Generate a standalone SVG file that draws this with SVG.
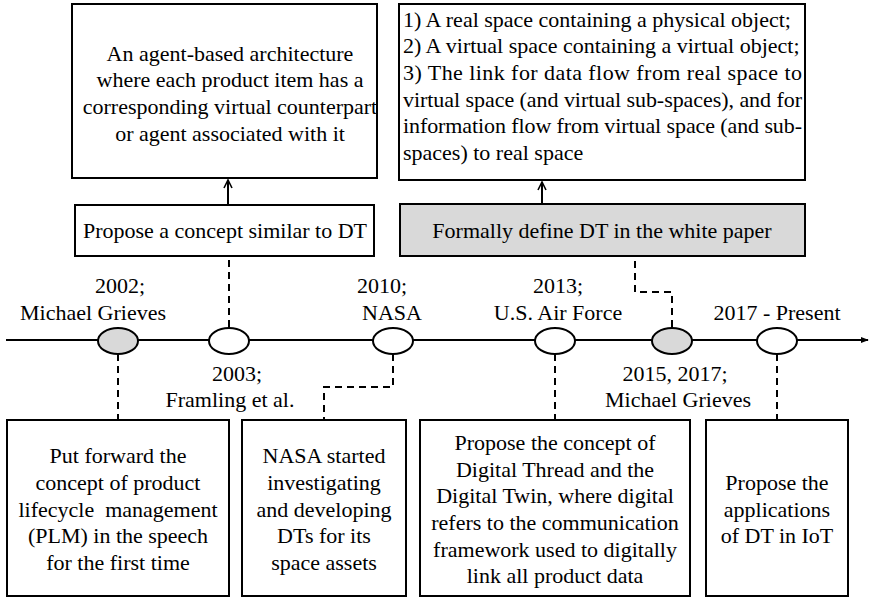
<svg xmlns="http://www.w3.org/2000/svg" width="869" height="598" viewBox="0 0 869 598">
<defs>
<marker id="arr" viewBox="0 0 10 10" refX="9" refY="5" markerWidth="10" markerHeight="10" markerUnits="userSpaceOnUse" orient="auto">
<path d="M1,1 L9,5 L1,9" fill="none" stroke="#000" stroke-width="1.6"/>
</marker>
<marker id="arrEnd" viewBox="0 0 10 10" refX="9" refY="5" markerWidth="8" markerHeight="8" markerUnits="userSpaceOnUse" orient="auto">
<path d="M0,1 L10,5 L0,9 Z" fill="#000"/>
</marker>
<style>
.c{text-anchor:middle}
.box{fill:#fff;stroke:#000;stroke-width:2}
.gray{fill:#d9d9d9;stroke:#000;stroke-width:2}
.ev{fill:#fff;stroke:#000;stroke-width:2}
.evg{fill:#d9d9d9;stroke:#000;stroke-width:2}
.dash{fill:none;stroke:#000;stroke-width:2;stroke-dasharray:7,5}
.solid{fill:none;stroke:#000;stroke-width:2}
</style>
</defs>
<rect width="869" height="598" fill="#fff"/>

<g id="connectors">
<line class="solid" x1="6" y1="340" x2="868" y2="340" marker-end="url(#arrEnd)"/>
<line class="solid" x1="228" y1="205" x2="228" y2="180" marker-end="url(#arr)"/>
<line class="solid" x1="542" y1="204" x2="542" y2="182" marker-end="url(#arr)"/>
<path class="dash" d="M229,327 V256"/>
<path class="dash" d="M118,354 V420"/>
<path class="dash" d="M393,354 V387 H324 V420"/>
<path class="dash" d="M555,354 V420"/>
<path class="dash" d="M672,327 V292 H635 V256"/>
<path class="dash" d="M777,354 V420"/>
</g>

<g id="events">
<ellipse class="evg" cx="118" cy="341" rx="20" ry="13"/>
<ellipse class="ev" cx="229" cy="341" rx="20" ry="13"/>
<ellipse class="ev" cx="393" cy="341" rx="20" ry="13"/>
<ellipse class="ev" cx="555" cy="341" rx="20" ry="13"/>
<ellipse class="evg" cx="672" cy="341" rx="20" ry="13"/>
<ellipse class="ev" cx="777" cy="341" rx="20" ry="13"/>
</g>

<g id="labels">
<text x="120" y="293" class="c" font-family="Times New Roman" font-size="22">2002;</text>
<text x="93" y="320" class="c" font-family="Times New Roman" font-size="22">Michael Grieves</text>
<text x="237" y="381" class="c" font-family="Times New Roman" font-size="22">2003;</text>
<text x="230" y="407" class="c" font-family="Times New Roman" font-size="22">Framling et al.</text>
<text x="382" y="293" class="c" font-family="Times New Roman" font-size="22">2010;</text>
<text x="392" y="320" class="c" font-family="Times New Roman" font-size="22">NASA</text>
<text x="558" y="293" class="c" font-family="Times New Roman" font-size="22">2013;</text>
<text x="558" y="320" class="c" font-family="Times New Roman" font-size="22">U.S. Air Force</text>
<text x="675" y="381" class="c" font-family="Times New Roman" font-size="22">2015, 2017;</text>
<text x="678" y="407" class="c" font-family="Times New Roman" font-size="22">Michael Grieves</text>
<text x="777" y="320" class="c" font-family="Times New Roman" font-size="22">2017 - Present</text>
</g>

<g id="top-left">
<rect class="box" x="72" y="4" width="305" height="174"/>
<text class="c" x="230" y="61" font-family="Times New Roman" font-size="22">An agent-based architecture</text>
<text class="c" x="230" y="87" font-family="Times New Roman" font-size="22">where each product item has a</text>
<text class="c" x="230" y="114" font-family="Times New Roman" font-size="22">corresponding virtual counterpart</text>
<text class="c" x="230" y="141" font-family="Times New Roman" font-size="22">or agent associated with it</text>
</g>

<g id="propose-similar">
<rect class="box" x="75" y="205" width="299" height="51"/>
<text class="c" x="225" y="238" font-family="Times New Roman" font-size="22">Propose a concept similar to DT</text>
</g>

<g id="top-right">
<rect class="box" x="399" y="4" width="406" height="176"/>
<text x="403" y="27" font-family="Times New Roman" font-size="22">1) A real space containing a physical object;</text>
<text x="403" y="53" font-family="Times New Roman" font-size="22">2) A virtual space containing a virtual object;</text>
<text x="403" y="80" textLength="399" lengthAdjust="spacing" font-family="Times New Roman" font-size="22">3) The link for data flow from real space to</text>
<text x="403" y="107" textLength="399" lengthAdjust="spacing" font-family="Times New Roman" font-size="22">virtual space (and virtual sub-spaces), and for</text>
<text x="403" y="133" textLength="399" lengthAdjust="spacing" font-family="Times New Roman" font-size="22">information flow from virtual space (and sub-</text>
<text x="403" y="160" font-family="Times New Roman" font-size="22">spaces) to real space</text>
</g>

<g id="formally-define">
<rect class="gray" x="400" y="204" width="405" height="52"/>
<text class="c" x="602" y="238" font-family="Times New Roman" font-size="22">Formally define DT in the white paper</text>
</g>

<g id="box-2002">
<rect class="box" x="7" y="420" width="222" height="176"/>
<text class="c" x="118" y="463" font-family="Times New Roman" font-size="22">Put forward the</text>
<text class="c" x="118" y="490" font-family="Times New Roman" font-size="22">concept of product</text>
<text class="c" x="118" y="517" font-family="Times New Roman" font-size="22" xml:space="preserve">lifecycle  management</text>
<text class="c" x="118" y="543" font-family="Times New Roman" font-size="22">(PLM) in the speech</text>
<text class="c" x="118" y="570" font-family="Times New Roman" font-size="22">for the first time</text>
</g>

<g id="box-2010">
<rect class="box" x="242" y="420" width="164" height="176"/>
<text class="c" x="324" y="463" font-family="Times New Roman" font-size="22">NASA started</text>
<text class="c" x="324" y="490" font-family="Times New Roman" font-size="22">investigating</text>
<text class="c" x="324" y="517" font-family="Times New Roman" font-size="22">and developing</text>
<text class="c" x="324" y="543" font-family="Times New Roman" font-size="22">DTs for its</text>
<text class="c" x="324" y="570" font-family="Times New Roman" font-size="22">space assets</text>
</g>

<g id="box-2013">
<rect class="box" x="420" y="420" width="270" height="176"/>
<text class="c" x="555" y="450" font-family="Times New Roman" font-size="22">Propose the concept of</text>
<text class="c" x="555" y="477" font-family="Times New Roman" font-size="22">Digital Thread and the</text>
<text class="c" x="555" y="503" font-family="Times New Roman" font-size="22">Digital Twin, where digital</text>
<text class="c" x="555" y="530" font-family="Times New Roman" font-size="22">refers to the communication</text>
<text class="c" x="555" y="557" font-family="Times New Roman" font-size="22">framework used to digitally</text>
<text class="c" x="555" y="583" font-family="Times New Roman" font-size="22">link all product data</text>
</g>

<g id="box-2017">
<rect class="box" x="706" y="420" width="142" height="176"/>
<text class="c" x="777" y="490" font-family="Times New Roman" font-size="22">Propose the</text>
<text class="c" x="777" y="517" font-family="Times New Roman" font-size="22">applications</text>
<text class="c" x="777" y="543" font-family="Times New Roman" font-size="22">of DT in IoT</text>
</g>
</svg>
